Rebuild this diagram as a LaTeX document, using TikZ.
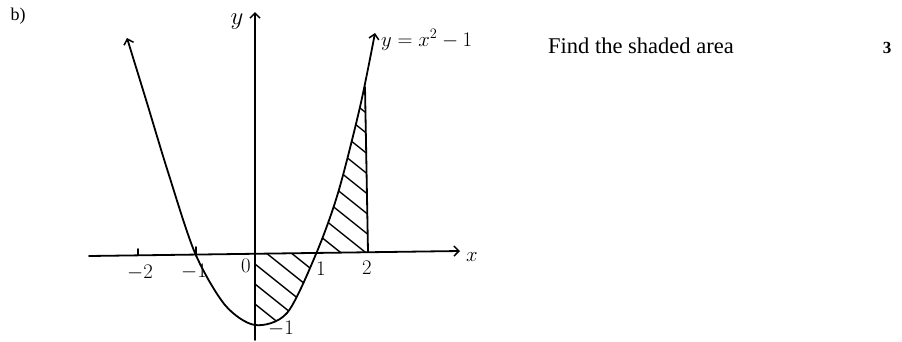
\documentclass[tikz,border=0pt]{standalone}
\usepackage{fontspec}
\setmainfont{Liberation Serif}
\usetikzlibrary{arrows.meta}
\begin{document}
\begin{tikzpicture}[x=1pt,y=-1pt, line cap=round, line join=round,
  ink/.style={line width=1.8pt},
  barb/.tip={Straight Barb[length=5pt,width=10pt,line width=1.5pt]},
  hatch/.style={line width=1.4pt},
  hand/.style={inner sep=0pt, font=\fontsize{20}{22}\selectfont},
  print/.style={inner sep=0pt, anchor=base west, font=\fontsize{22.5}{26}\selectfont}]
\useasboundingbox[fill=white] (0,0) rectangle (902,341);

% hatched region between x=0 and x=1 (below axis)
\begin{scope}
  \clip (255,253) rectangle (340,340);
  \clip plot[smooth] coordinates {(127,38) (147,103) (168,172) (195,253) (225,305) (255,325) (287,313) (316,254) (338,193) (360,107) (375,33)} -- cycle;
  \foreach \k in {-240,-220,...,160} \draw[hatch] (200,160+\k) -- (420,336+\k);
\end{scope}
% hatched region between x=1 and x=2 (above axis)
\begin{scope}
  \clip (300,252) -- (368,252) -- (365,87) -- (300,87) -- cycle;
  \clip plot[smooth] coordinates {(127,38) (147,103) (168,172) (195,253) (225,305) (255,325) (287,313) (316,254) (338,193) (360,107) (375,33)} -- (600,0) -- (600,400) -- (100,400) -- cycle;
  \foreach \k in {-240,-220,...,160} \draw[hatch] (200,160+\k) -- (420,336+\k);
\end{scope}

% axes
\coordinate (xl) at (89,256);
\coordinate (xr) at (460,251);
\coordinate (yb) at (255,340);
\coordinate (yt) at (255,12);
\draw[ink,-barb] (xl) -- (xr);
\draw[ink,-barb] (yb) -- (yt);
% ticks
\draw[ink] (138,249) -- (138,255);
\draw[ink] (196,247) -- (196,256);
% right boundary x = 2
\coordinate (vt) at (365,87);
\coordinate (vb) at (368,252);
\draw[ink] (vt) -- (vb);

% the curve
\draw[ink, barb-barb] plot[smooth] coordinates {(127,38) (147,103) (168,172) (195,253) (225,305) (255,325) (287,313) (316,254) (338,193) (360,107) (375,33)};

% handwritten labels
\node[hand] (ly) at (237,22) {\fontsize{23}{24}\selectfont$y$};
\node[hand] (lx) at (472,257) {\fontsize{21}{22}\selectfont$x$};
\node[hand, anchor=west] (lf) at (381,40) {\fontsize{22}{24}\selectfont$y=x^2-1$};
\node[hand] (lm2) at (140,273) {$-2$};
\node[hand] (lm1) at (194,272) {$-1$};
\node[hand] (l0) at (246,266) {$0$};
\node[hand] (l1) at (321,269) {$1$};
\node[hand] (l2) at (367,268) {$2$};
\node[hand] (lv) at (281,329) {$-1$};

% printed text
\node[inner sep=0pt, font=\fontsize{18}{20}\selectfont] (lb) at (18,16) {b)};
\node[print] (q) at (548,53) {Find the shaded area};
\node[inner sep=0pt, font=\fontsize{17}{18}\selectfont\bfseries] (m) at (887,48) {3};
\end{tikzpicture}
\end{document}
